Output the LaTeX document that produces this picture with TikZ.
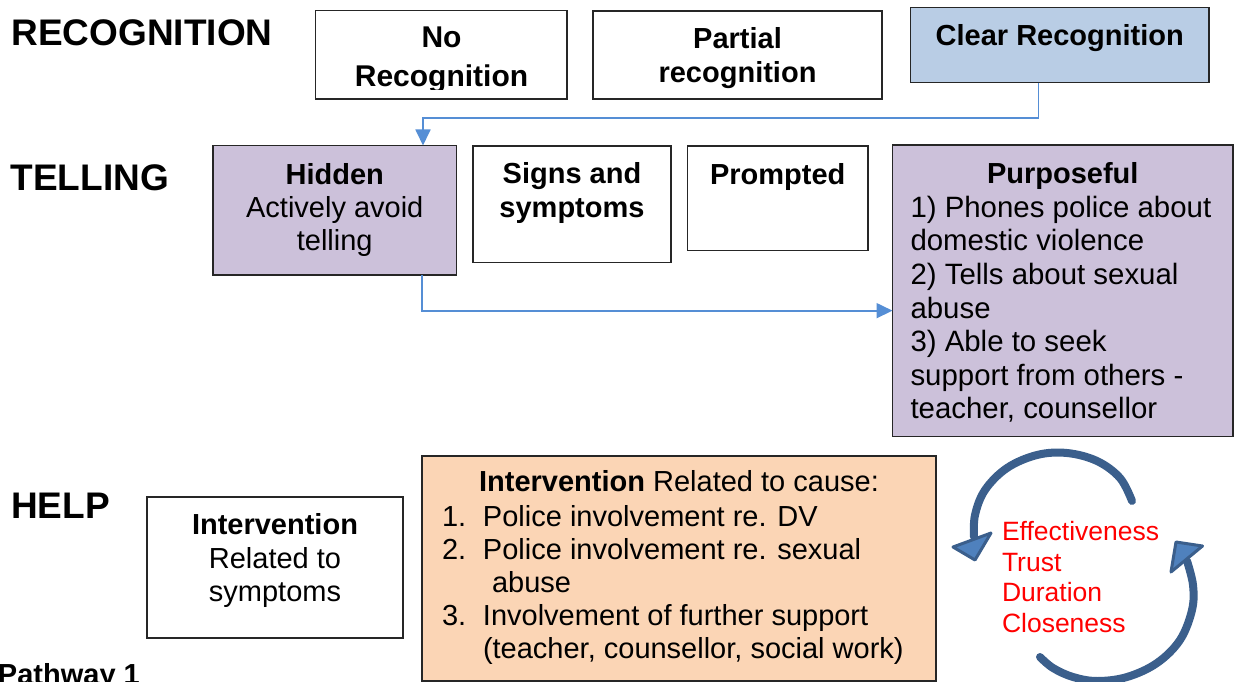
\documentclass[tikz,border=0pt]{standalone}
\usepackage{fontspec}
\setmainfont{Liberation Sans}
\usetikzlibrary{arrows.meta}
\definecolor{lav}{HTML}{CCC1DA}
\definecolor{lblue}{HTML}{B9CDE5}
\definecolor{peach}{HTML}{FBD5B5}
\definecolor{connc}{HTML}{558ED5}
\definecolor{cdark}{HTML}{3B5F8C}
\definecolor{cfill}{HTML}{4F81BD}
\definecolor{redt}{HTML}{FF0000}
\tikzset{
  box/.style={draw=black!85, line width=1.2pt, inner sep=0pt, outer sep=0pt, anchor=north west},
  txt/.style={inner sep=0pt, outer sep=0pt, font=\fontsize{29}{33.4}\selectfont, align=center, anchor=north},
  lbl/.style={inner sep=0pt, outer sep=0pt, font=\fontsize{37}{41}\selectfont\bfseries, anchor=base west},
  conn/.style={draw=connc, line width=1.8pt, -{Triangle[length=16pt,width=15pt]}},
  cyc/.style={draw=cdark, line width=8pt, line cap=round},
  cychead/.style={draw=cdark, fill=cfill, line width=3pt, line join=round},
}
\begin{document}
\begin{tikzpicture}[x=1pt,y=-1pt]
\useasboundingbox (0,0) rectangle (1234,682);
\clip (0,0) rectangle (1234,682);

% side labels
\node[lbl] (lrec) at (11.5,45.5) {RECOGNITION};
\node[lbl] (ltel) at (10.5,190) {TELLING};
\node[lbl] (lhelp) at (11,518) {HELP};
\node[inner sep=0pt, outer sep=0pt, font=\fontsize{29}{33}\selectfont\bfseries, anchor=base west] (path) at (-2,684) {Pathway 1};

% recognition row
\node[box, minimum width=251.5pt, minimum height=88.5pt] (no) at (315.5,10.5) {};
\begin{scope}
  \clip (316,0) rectangle (567,89.5);
  \node[txt, font=\fontsize{30}{39.5}\selectfont\bfseries] (noT) at (441.5,26.5) {No\\Recognition};
\end{scope}
\node[box, minimum width=289pt, minimum height=88pt] (par) at (593,11) {};
\node[txt, font=\fontsize{29}{34}\selectfont\bfseries] (parT) at (737.5,27.7) {Partial\\recognition};
\node[box, fill=lblue, minimum width=298.5pt, minimum height=75.2pt] (clr) at (910.5,7.5) {};
\node[txt, font=\fontsize{29}{34}\selectfont\bfseries] (clrT) at (1059.75,24.2) {Clear Recognition};

% telling row
\node[box, fill=lav, minimum width=243.5pt, minimum height=129.5pt] (hid) at (213,145.5) {};
\node[txt] (hidT) at (334.75,163) {\textbf{Hidden}\\Actively avoid\\telling};
\node[box, minimum width=198pt, minimum height=116.5pt] (sig) at (473,146) {};
\node[txt, font=\fontsize{29}{34}\selectfont\bfseries] (sigT) at (572,162.7) {Signs and\\symptoms};
\node[box, minimum width=180.5pt, minimum height=104.5pt] (pro) at (687.5,146) {};
\node[txt, font=\fontsize{29}{34}\selectfont\bfseries] (proT) at (777.75,163.2) {Prompted};
\node[box, fill=lav, minimum width=340.5pt, minimum height=291.5pt] (pur) at (892.5,145) {};
\node[txt, font=\fontsize{29}{34}\selectfont\bfseries] (purT) at (1062.75,162.5) {Purposeful};
\node[txt, align=left, anchor=north west, font=\fontsize{29.4}{33.6}\selectfont] (purB) at (910.5,196)
  {1) Phones police about\\domestic violence\\2) Tells about sexual\\abuse\\3) Able to seek\\support from others -\\teacher, counsellor};

% connectors
\draw[conn] ([xshift=-21.25pt]clr.south) -- ++(0,35.3) -| ([xshift=88.25pt]hid.north);
\draw[conn] ([xshift=87.25pt]hid.south) |- ([yshift=-19.9pt]pur.west);

% help row
\node[box, minimum width=256pt, minimum height=141pt] (sym) at (147,497) {};
\node[txt] (symT) at (275,513.7) {\textbf{Intervention}\\Related to\\symptoms};
\node[box, fill=peach, minimum width=514pt, minimum height=225pt] (ora) at (422,456) {};
\node[txt] (oraT) at (679,470.2) {\textbf{Intervention} Related to cause:};
\node[txt, align=left, anchor=north west, font=\fontsize{29}{33.1}\selectfont] (oraL) at (442,505.2)
  {\makebox[41pt][l]{1.}Police involvement re. DV\\
   \makebox[41pt][l]{2.}Police involvement re. sexual\\
   \hspace*{50pt}abuse\\
   \makebox[41pt][l]{3.}Involvement of further support\\
   \hspace*{41pt}(teacher, counsellor, social work)};

% cycle arrows
\draw[cyc] plot[smooth, tension=0.6] coordinates {(1132,501) (1120,478) (1097,461) (1067,453) (1037,455) (1007,468) (985,490) (975,515) (974,537)};
\draw[cyc] plot[smooth, tension=0.6] coordinates {(1040,657) (1053,668) (1073,677) (1097,681) (1127,677) (1157,663) (1180,640) (1192,610) (1193,585) (1187,561)};
\filldraw[cychead] (953,547) -- (991,533) -- (975,560) -- cycle;
\filldraw[cychead] (1176,542) -- (1202.5,546) -- (1171,572) -- cycle;
\node[inner sep=0pt, outer sep=0pt, anchor=north west, align=left, text=redt, font=\fontsize{26.5}{30.6}\selectfont] (red) at (1002,521.2)
  {Effectiveness\\Trust\\Duration\\Closeness};
\end{tikzpicture}
\end{document}
